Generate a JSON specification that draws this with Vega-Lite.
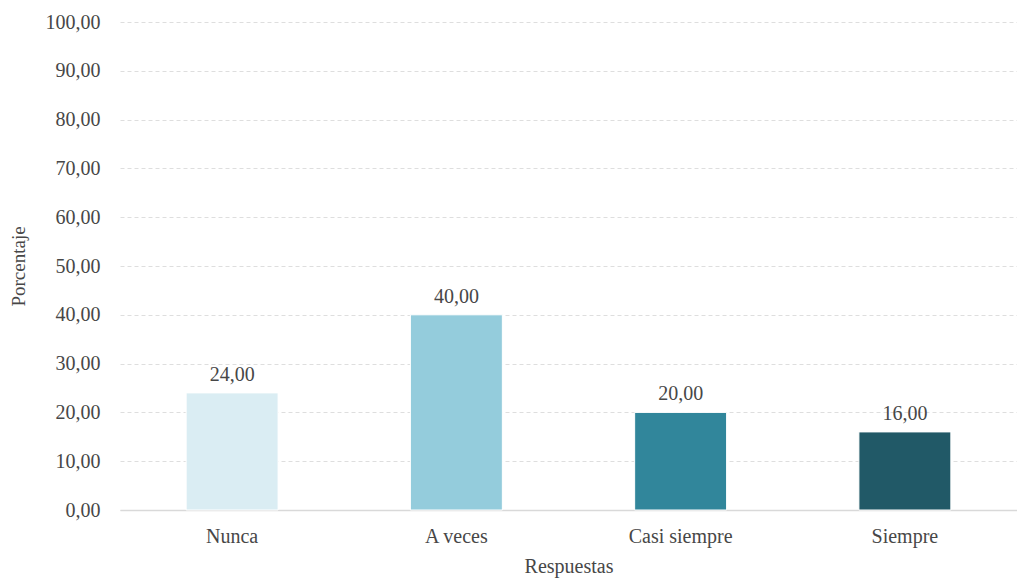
{
  "$schema": "https://vega.github.io/schema/vega-lite/v6.json",
  "autosize": {"type": "none"},
  "padding": {"left": 120, "top": 22, "right": 0, "bottom": 68},
  "width": 897,
  "height": 488,
  "background": "white",
  "config": {
    "locale": {"number": {"decimal": ",", "thousands": ".", "grouping": [3], "currency": ["", " €"]}},
    "view": {"stroke": null},
    "font": "Liberation Serif"
  },
  "data": {
    "values": [
      {"respuesta": "Nunca", "porcentaje": 24},
      {"respuesta": "A veces", "porcentaje": 40},
      {"respuesta": "Casi siempre", "porcentaje": 20},
      {"respuesta": "Siempre", "porcentaje": 16}
    ]
  },
  "encoding": {
    "x": {
      "field": "respuesta", "type": "nominal", "sort": null,
      "scale": {"paddingInner": 0.59, "paddingOuter": 0.295},
      "axis": {
        "title": "Respuestas", "labelAngle": 0, "labelFontSize": 20, "labelColor": "#474747",
        "labelFont": "Liberation Serif", "titleFont": "Liberation Serif", "titleFontSize": 20,
        "titleFontWeight": "normal", "titleColor": "#474747", "titlePadding": 10,
        "domainColor": "#d9d9d9", "domainWidth": 1.5, "ticks": false, "labelPadding": 16
      }
    },
    "y": {
      "field": "porcentaje", "type": "quantitative",
      "scale": {"domain": [0, 100]},
      "axis": {
        "title": "Porcentaje", "format": ".2f", "values": [0,10,20,30,40,50,60,70,80,90,100],
        "labelOverlap": false,
        "labelFontSize": 20, "labelColor": "#474747", "labelFont": "Liberation Serif",
        "titleFont": "Liberation Serif", "titleFontSize": 19, "titleFontWeight": "normal", "titleColor": "#474747",
        "titlePadding": 17, "domain": false, "ticks": false, "labelPadding": 20,
        "gridColor": "#dedede", "gridDash": [4, 3], "gridWidth": 1
      }
    }
  },
  "layer": [
    {
      "mark": {"type": "bar", "stroke": "white", "strokeWidth": 1},
      "encoding": {
        "color": {
          "field": "respuesta", "type": "nominal", "sort": null, "legend": null,
          "scale": {"domain": ["Nunca", "A veces", "Casi siempre", "Siempre"], "range": ["#daedf3", "#94ccdc", "#31869b", "#215967"]}
        }
      }
    },
    {
      "mark": {"type": "text", "baseline": "bottom", "dy": -8, "fontSize": 20, "color": "#474747", "font": "Liberation Serif"},
      "encoding": {"text": {"field": "porcentaje", "type": "quantitative", "format": ".2f"}}
    }
  ]
}
